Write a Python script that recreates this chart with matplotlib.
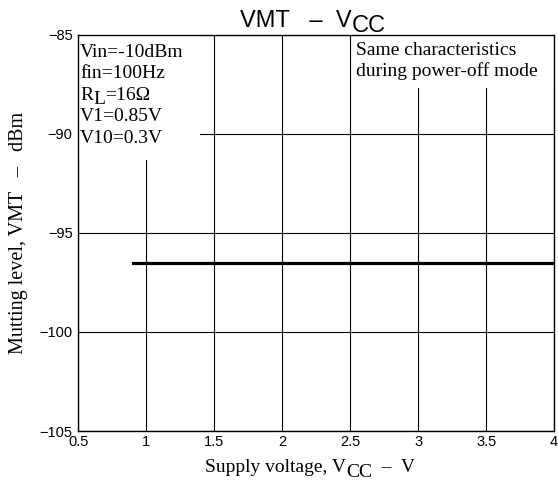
import matplotlib
matplotlib.use('Agg')
import matplotlib.pyplot as plt
from matplotlib.patches import Rectangle

# data
vcc = [0.9, 4.0]
vmt = [-96.5, -96.5]
x_ticks = [0.5, 1, 1.5, 2, 2.5, 3, 3.5, 4]
x_labels = ['0.5', '1', '1.5', '2', '2.5', '3', '3.5', '4']
y_ticks = [-105, -100, -95, -90, -85]
y_labels = ['\u2212105', '\u2212100', '\u221295', '\u221290', '\u221285']

serif = 'Liberation Serif'
sans = 'Liberation Sans'


def sub_text(ax, head, sub, tail, xy, xycoords, family, size, drop=3.6, **kw):
    """head + lowered full-size subscript + tail, as three chained texts."""
    a = ax.annotate(head, xy=xy, xycoords=xycoords, fontfamily=family, fontsize=size,
                    va='baseline', ha='left', annotation_clip=False, **kw)
    b = ax.annotate(sub, xy=(1, 0), xycoords=a, xytext=(0, -drop), textcoords='offset points',
                    fontfamily=family, fontsize=size, va='bottom', ha='left',
                    annotation_clip=False, **kw)
    if tail:
        ax.annotate(tail, xy=(1, 0), xycoords=b, xytext=(0, drop), textcoords='offset points',
                    fontfamily=family, fontsize=size, va='bottom', ha='left',
                    annotation_clip=False, **kw)
    return a


fig = plt.figure(figsize=(5.58, 4.84), dpi=100)
ax = fig.add_axes([0.140, 0.1095, 0.853, 0.8185])
ax.set_xlim(0.5, 4)
ax.set_ylim(-105, -85)

ax.set_xticks(x_ticks)
ax.set_xticklabels(x_labels, fontfamily=sans, fontsize=10.5)
ax.set_yticks(y_ticks)
ax.set_yticklabels(y_labels, fontfamily=sans, fontsize=10.5)
ax.tick_params(length=0)
ax.tick_params(axis='y', pad=4)
ax.tick_params(axis='x', pad=3)
ax.grid(True, color='black', linewidth=0.8)
ax.set_axisbelow(True)
for s in ax.spines.values():
    s.set_linewidth(1.0)
    s.set_zorder(4)

ax.plot(vcc, vmt, color='black', linewidth=2.3, zorder=3)

# white masks behind the condition notes
ax.add_patch(Rectangle((0, 0.684), 0.256, 0.316, transform=ax.transAxes,
                       facecolor='white', edgecolor='none', zorder=1.5))
ax.add_patch(Rectangle((0.577, 0.866), 0.423, 0.134, transform=ax.transAxes,
                       facecolor='white', edgecolor='none', zorder=1.5))

fig.canvas.draw()

# left notes, one line each (baselines in data units)
note_kw = dict(fontfamily=serif, fontsize=14, va='baseline', ha='left', zorder=2)
ax.text(0.515, -86.12, 'Vin=-10dBm', **note_kw)
ax.text(0.515, -87.2, 'fin=100Hz', **note_kw)
sub_text(ax, 'R', 'L', '=16\u03a9', (0.515, -88.28), 'data', serif, 14, drop=3.2, zorder=2)
ax.text(0.515, -89.37, 'V1=0.85V', **note_kw)
ax.text(0.515, -90.45, 'V10=0.3V', **note_kw)

# right notes
ax.text(2.54, -86.0, 'Same characteristics', **note_kw)
ax.text(2.54, -87.07, 'during power-off mode', **note_kw)

# title
sub_text(ax, 'VMT   \u2013  V', 'CC', '', (0.430, 0.944), 'figure fraction', sans, 17, drop=3.6)

# x label
sub_text(ax, 'Supply voltage, V', 'CC', '  \u2013  V', (0.367, 0.025), 'figure fraction',
         serif, 14, drop=3.6)

# y label
fig.text(0.033, 0.519, 'Mutting level, VMT   \u2013   dBm', fontfamily=serif, fontsize=14.5,
         rotation=90, ha='center', va='center')

fig.savefig('out.png', dpi=100)
